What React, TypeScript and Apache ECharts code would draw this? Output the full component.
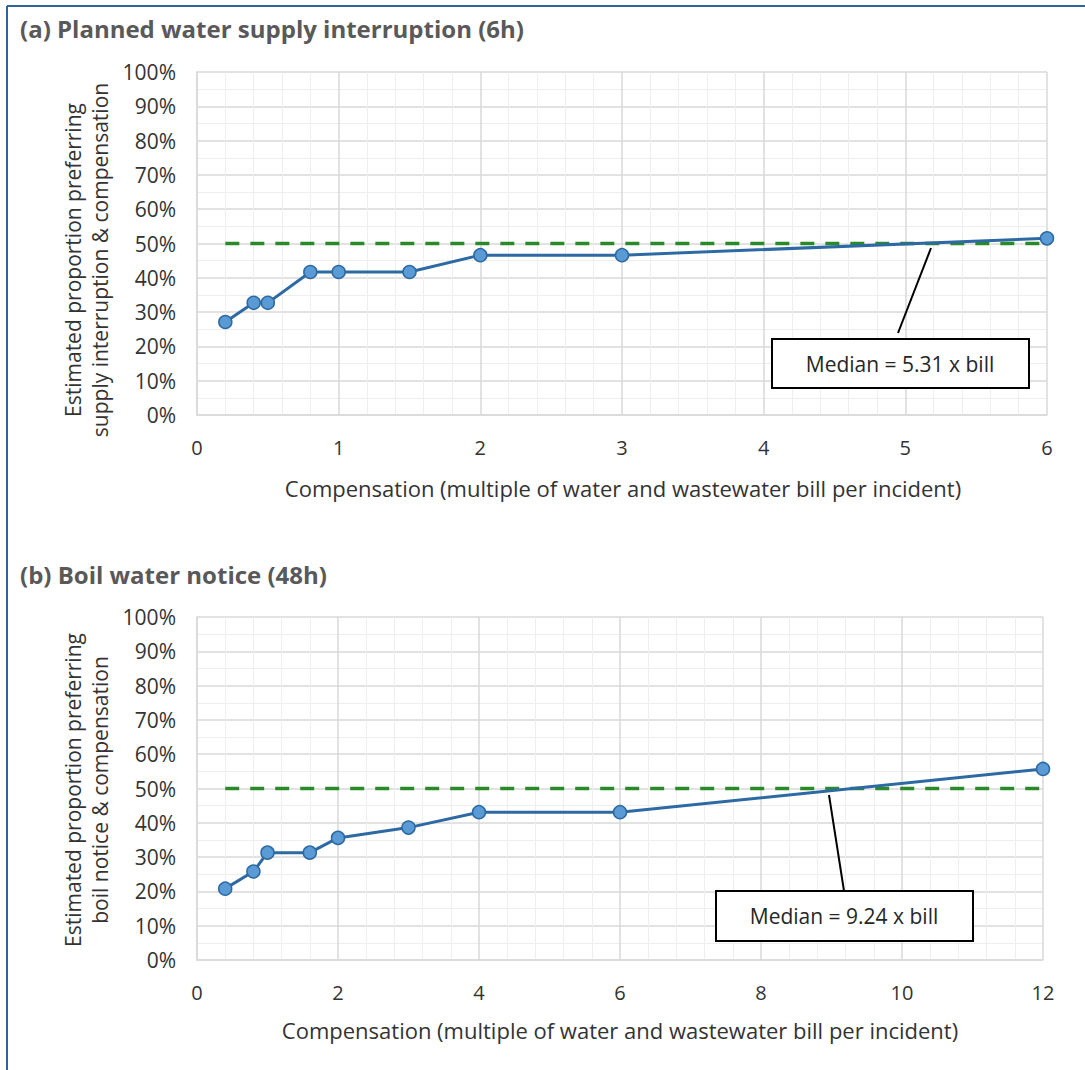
import React, { useEffect, useRef } from "react";
import * as echarts from "echarts";

const titleA = "(a) Planned water supply interruption (6h)";
const titleB = "(b) Boil water notice (48h)";
const xNameAll = "Compensation (multiple of water and wastewater bill per incident)";
const yNameA = "Estimated proportion preferring\nsupply interruption & compensation";
const yNameB = "Estimated proportion preferring\nboil notice & compensation";

const compA = [0.2, 0.4, 0.5, 0.8, 1, 1.5, 2, 3, 6];
const propA = [27.1, 32.7, 32.7, 41.7, 41.7, 41.7, 46.6, 46.6, 51.5];
const compB = [0.4, 0.8, 1, 1.6, 2, 3, 4, 6, 12];
const propB = [20.8, 25.8, 31.3, 31.3, 35.6, 38.6, 43.1, 43.1, 55.7];
const medianLevel = 50;
const medianLabelA = "Median = 5.31 x bill";
const medianLabelB = "Median = 9.24 x bill";

const FONT = "'Open Sans', 'Noto Sans', sans-serif";
const LINE_COLOR = "#2d6aa3";
const DOT_FILL = "#5b9bd5";
const GREEN = "#2a8a2a";

export default function App() {
  const ref = useRef<HTMLDivElement>(null);
  useEffect(() => {
    if (!ref.current) return;
    const chart = echarts.init(ref.current, undefined, { renderer: "svg" });
    const xAxisBase = (max: number, interval: number, gridIndex: number) => ({
      type: "value",
      gridIndex,
      min: 0,
      max,
      interval,
      minorTick: { show: false, splitNumber: 5 },
      minorSplitLine: { show: true, lineStyle: { color: "#eeeeee", width: 1 } },
      splitLine: { show: true, lineStyle: { color: "#d9d9d9", width: 1.5 } },
      axisLine: { show: true, lineStyle: { color: "#d9d9d9", width: 1.5 } },
      axisTick: { show: false },
      axisLabel: { color: "#333333", fontFamily: FONT, fontSize: 20, margin: 22 },
    });
    const yAxisBase = (gridIndex: number) => ({
      type: "value",
      gridIndex,
      min: 0,
      max: 100,
      interval: 10,
      minorTick: { show: false, splitNumber: 2 },
      minorSplitLine: { show: true, lineStyle: { color: "#eeeeee", width: 1 } },
      splitLine: { show: true, lineStyle: { color: "#d9d9d9", width: 1.5 } },
      axisLine: { show: true, lineStyle: { color: "#d9d9d9", width: 1.5 } },
      axisTick: { show: false },
      axisLabel: { color: "#333333", fontFamily: FONT, fontSize: 21, margin: 21, formatter: "{value}%" },
    });
    const lineSeries = (xs: number[], ys: number[], idx: number) => ({
      type: "line",
      xAxisIndex: idx,
      yAxisIndex: idx,
      data: xs.map((x, i) => [x, ys[i]]),
      symbol: "circle",
      symbolSize: 13,
      lineStyle: { color: LINE_COLOR, width: 3 },
      itemStyle: { color: DOT_FILL, borderColor: LINE_COLOR, borderWidth: 1.5 },
      z: 3,
    });
    const medSeries = (xs: number[], idx: number) => ({
      type: "line",
      xAxisIndex: idx,
      yAxisIndex: idx,
      data: [[xs[0], medianLevel], [xs[xs.length - 1], medianLevel]],
      symbol: "none",
      lineStyle: { color: GREEN, width: 3.5, type: [14, 11] },
      z: 2,
    });
    const titleStyle = { fill: "#595959", font: `bold 24px ${FONT}` };
    const axisNameStyle = { fill: "#333333", fontFamily: FONT, fontSize: 22 };
    chart.setOption({
      animation: false,
      grid: [
        { left: 197, top: 72, width: 850, height: 343 },
        { left: 197, top: 617, width: 846, height: 343 },
      ],
      xAxis: [xAxisBase(6, 1, 0), xAxisBase(12, 2, 1)],
      yAxis: [yAxisBase(0), yAxisBase(1)],
      series: [
        medSeries(compA, 0),
        lineSeries(compA, propA, 0),
        medSeries(compB, 1),
        lineSeries(compB, propB, 1),
      ],
      graphic: [
        { type: "line", shape: { x1: 7, y1: 6, x2: 1085, y2: 6 }, style: { stroke: "#2e6299", lineWidth: 2 } },
        { type: "line", shape: { x1: 7, y1: 6, x2: 7, y2: 1070 }, style: { stroke: "#2e6299", lineWidth: 2 } },
        { type: "text", x: 20, y: 28, style: { text: titleA, ...titleStyle, textVerticalAlign: "middle" } },
        { type: "text", x: 20, y: 574, style: { text: titleB, ...titleStyle, textVerticalAlign: "middle" } },
        { type: "text", x: 623, y: 488, style: { text: xNameAll, ...axisNameStyle, textAlign: "center", textVerticalAlign: "middle" } },
        { type: "text", x: 620, y: 1030, style: { text: xNameAll, ...axisNameStyle, textAlign: "center", textVerticalAlign: "middle" } },
        { type: "text", x: 86, y: 260, rotation: Math.PI / 2, style: { text: yNameA, ...axisNameStyle, fontSize: 21, lineHeight: 27, textAlign: "center", textVerticalAlign: "middle" } },
        { type: "text", x: 86, y: 790, rotation: Math.PI / 2, style: { text: yNameB, ...axisNameStyle, fontSize: 21, lineHeight: 27, textAlign: "center", textVerticalAlign: "middle" } },
        { type: "line", shape: { x1: 931, y1: 248, x2: 898, y2: 333 }, style: { stroke: "#000", lineWidth: 2 }, z: 10 },
        { type: "rect", shape: { x: 772, y: 339, width: 257, height: 49 }, style: { fill: "#fff", stroke: "#000", lineWidth: 2 }, z: 10 },
        { type: "text", x: 900, y: 364, style: { text: medianLabelA, fill: "#262626", fontFamily: FONT, fontSize: 21, textAlign: "center", textVerticalAlign: "middle" }, z: 11 },
        { type: "line", shape: { x1: 829, y1: 795, x2: 844, y2: 891 }, style: { stroke: "#000", lineWidth: 2 }, z: 10 },
        { type: "rect", shape: { x: 716, y: 891, width: 257, height: 50 }, style: { fill: "#fff", stroke: "#000", lineWidth: 2 }, z: 10 },
        { type: "text", x: 844, y: 916, style: { text: medianLabelB, fill: "#262626", fontFamily: FONT, fontSize: 21, textAlign: "center", textVerticalAlign: "middle" }, z: 11 },
      ],
    });
    return () => chart.dispose();
  }, []);
  return (
    <div
      ref={ref}
      style={{ position: "fixed", left: 0, top: 0, width: 1085, height: 1070, background: "#fff" }}
    />
  );
}
